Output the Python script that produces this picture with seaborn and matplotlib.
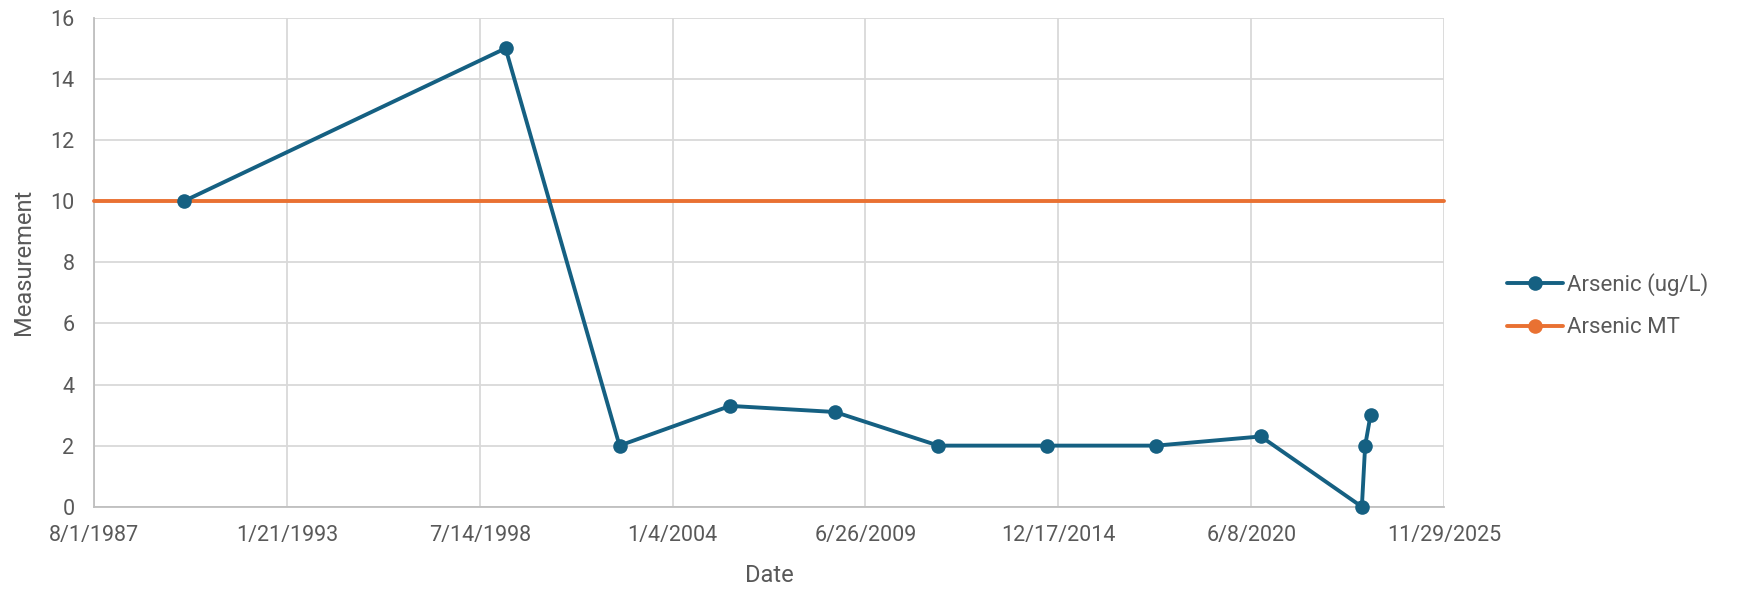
import pandas as pd
import matplotlib
matplotlib.use("Agg")
import matplotlib.pyplot as plt
from matplotlib.lines import Line2D
import seaborn as sns

# sample dates and arsenic results
sample_dates = [
    "1990-02-19", "1999-04-08", "2002-07-03", "2005-08-23", "2008-08-15",
    "2011-07-22", "2014-08-26", "2017-09-26", "2020-09-15", "2023-07-30",
    "2023-09-02", "2023-10-28",
]
arsenic_values = [10, 15, 2, 3.3, 3.1, 2, 2, 2, 2.3, 0, 2, 3]

# maximum threshold line (spans the whole axis)
mt_dates = ["1987-08-01", "2025-11-29"]
mt_values = [10, 10]

x_tick_labels = ["8/1/1987", "1/21/1993", "7/14/1998", "1/4/2004",
                 "6/26/2009", "12/17/2014", "6/8/2020", "11/29/2025"]
y_ticks = [0, 2, 4, 6, 8, 10, 12, 14, 16]

series_names = ["Arsenic (ug/L)", "Arsenic MT"]
colors = ["#156082", "#E97132"]
text_color = "#595959"

df = pd.DataFrame({"Date": pd.to_datetime(sample_dates), "Measurement": arsenic_values})
mt_df = pd.DataFrame({"Date": pd.to_datetime(mt_dates), "Measurement": mt_values})
tick_dates = pd.to_datetime(x_tick_labels, format="%m/%d/%Y")

sns.set_theme(style="white")
plt.rcParams["font.family"] = ["Roboto", "DejaVu Sans"]

fig = plt.figure(figsize=(17.59, 5.92), dpi=100)
ax = fig.add_axes([0.0534, 0.144, 0.7676, 0.826])

sns.lineplot(data=mt_df, x="Date", y="Measurement", color=colors[1],
             linewidth=2.8, ax=ax, clip_on=False, zorder=3)
sns.lineplot(data=df, x="Date", y="Measurement", color=colors[0],
             linewidth=2.8, marker="o", markersize=10.5, markeredgewidth=0,
             ax=ax, clip_on=False, zorder=4)

ax.set_xlim(tick_dates[0], tick_dates[-1])
ax.set_ylim(y_ticks[0], y_ticks[-1])
ax.set_xticks(tick_dates)
ax.set_xticklabels(x_tick_labels)
ax.set_yticks(y_ticks)

ax.grid(True, color="#d9d9d9", linewidth=1.3)
ax.set_axisbelow(True)
for side in ["top", "right"]:
    ax.spines[side].set_visible(False)
for side in ["left", "bottom"]:
    ax.spines[side].set_color("#bfbfbf")
    ax.spines[side].set_linewidth(1.3)

ax.tick_params(axis="both", length=0, labelsize=15.5, labelcolor=text_color)
ax.tick_params(axis="y", pad=14)
ax.tick_params(axis="x", pad=13)
ax.set_xlabel("Date", fontsize=17, color=text_color, labelpad=13)
ax.set_ylabel("Measurement", fontsize=17, color=text_color, labelpad=11)

handles = [
    Line2D([], [], color=c, linewidth=2.8, marker="o", markersize=10.5,
           markeredgewidth=0)
    for c in colors
]
fig.legend(handles, series_names, loc="center left",
           bbox_to_anchor=(0.857, 0.4834), frameon=False, fontsize=16,
           labelcolor=text_color, handlelength=2.5, handletextpad=0.2,
           labelspacing=0.95, borderpad=0, borderaxespad=0)

fig.savefig("out.png", dpi=100)
